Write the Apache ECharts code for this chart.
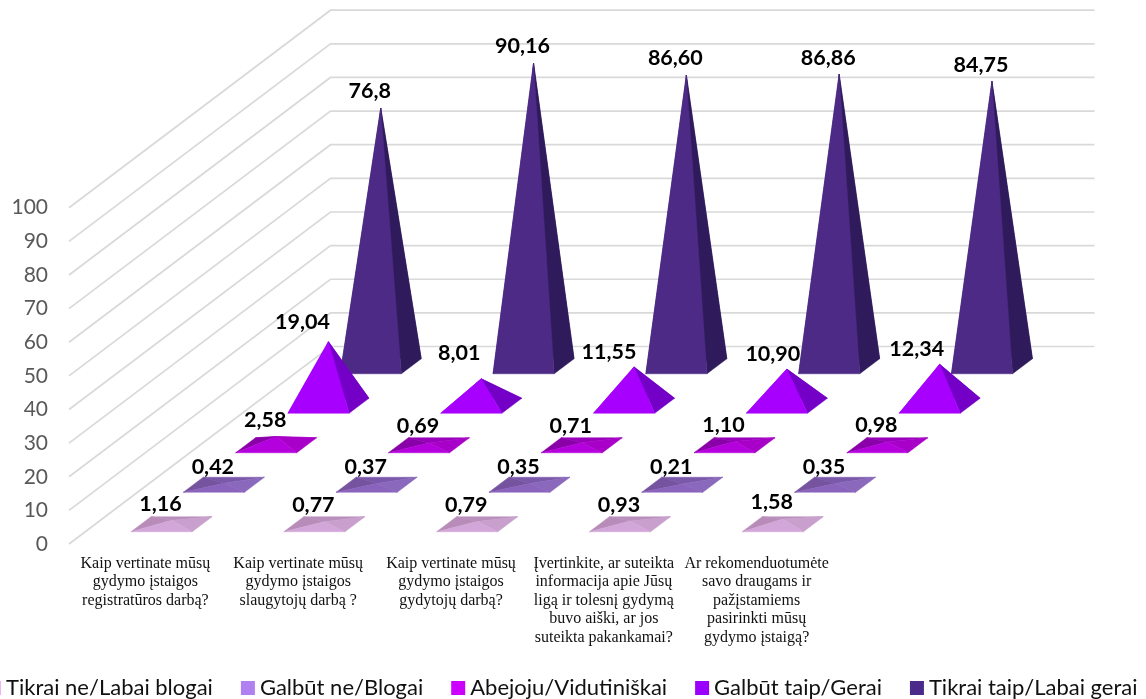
<!DOCTYPE html>
<html>
<head>
<meta charset="utf-8">
<style>html,body{margin:0;padding:0;background:#fff}#c{width:1146px;height:699px}</style>
<script src="https://cdn.jsdelivr.net/npm/echarts@6/dist/echarts.min.js"></script>
</head>
<body>
<div id="c"></div>
<script>
const categories = [
  'Kaip vertinate mūsų\ngydymo įstaigos\nregistratūros darbą?',
  'Kaip vertinate mūsų\ngydymo įstaigos\nslaugytojų darbą ?',
  'Kaip vertinate mūsų\ngydymo įstaigos\ngydytojų darbą?',
  'Įvertinkite, ar suteikta\ninformacija apie Jūsų\nligą ir tolesnį gydymą\nbuvo aiški, ar jos\nsuteikta pakankamai?',
  'Ar rekomenduotumėte\nsavo draugams ir\npažįstamiems\npasirinkti mūsų\ngydymo įstaigą?'
];
const seriesNames = ['Tikrai ne/Labai blogai','Galbūt ne/Blogai','Abejoju/Vidutiniškai','Galbūt taip/Gerai','Tikrai taip/Labai gerai'];
const tikraiNe   = ['1,16','0,77','0,79','0,93','1,58'];
const galbutNe   = ['0,42','0,37','0,35','0,21','0,35'];
const abejoju    = ['2,58','0,69','0,71','1,10','0,98'];
const galbutTaip = ['19,04','8,01','11,55','10,90','12,34'];
const tikraiTaip = ['76,8','90,16','86,60','86,86','84,75'];
const ticks = [0,10,20,30,40,50,60,70,80,90,100];

const allValues = [tikraiNe, galbutNe, abejoju, galbutTaip, tikraiTaip];
const legendColors = ['#f5b0f5','#b07ff0','#cc00ff','#9900ff','#4a2a8a'];
// face colours per series: back, left, right, front
const faces = [
  ['#b98fbd','#b88cb8','#c99fcd','#d2a6d8'],
  ['#7a58aa','#75539f','#8a68bc','#8a63bc'],
  ['#9a00bb','#8a00a8','#a800c8','#b400dc'],
  ['#7a00cc','#8c00dd','#7400c8','#a800ff'],
  ['#2f1a5c','#3a2070','#2f1a5c','#4c2a85']
];
const DEPTH = [52.3, -39.5];      // one series row of depth, in pixels
const HALF_W = 0.2, HALF_D = 0.19; // pyramid base, as a share of band and of depth row
const LABEL_OFF = [-11, -16.5];
const labelOffsets = {'3':[[-26,-20],[-22,-26],[-25,-15],[-14,-15],[-23,-15]]};

function num(s){ return parseFloat(s.replace(',', '.')); }

function renderPyramid(s){
  return function(params, api){
    const i = api.value(0), v = api.value(1);
    const band = api.size([1,0])[0];
    const base = api.coord([i,0]), top = api.coord([i,v]);
    const cx = base[0] + (s+.5)*DEPTH[0], cy = base[1] + (s+.5)*DEPTH[1];
    const hw = band*HALF_W, hx = DEPTH[0]*HALF_D, hy = DEPTH[1]*HALF_D;
    const FL=[cx-hw-hx,cy-hy], FR=[cx+hw-hx,cy-hy], BL=[cx-hw+hx,cy+hy], BR=[cx+hw+hx,cy+hy];
    const A=[cx, cy-(base[1]-top[1])];
    const f = faces[s];
    const tri = (pts,c)=>({type:'polygon',shape:{points:pts},style:{fill:c,stroke:c,lineWidth:.5}});
    const off = (labelOffsets[s] && labelOffsets[s][params.dataIndex]) || LABEL_OFF;
    return {type:'group',children:[
      tri([BL,BR,A],f[0]),
      tri([BL,FL,A],f[1]),
      tri([FR,BR,A],f[2]),
      tri([FL,FR,A],f[3]),
      {type:'text',z2:50,style:{
        text:allValues[s][params.dataIndex],x:A[0]+off[0],y:A[1]+off[1],
        align:'center',verticalAlign:'middle',fill:'#000',
        font:'bold 21.5px Lato'}}
    ]};
  };
}

const chart = echarts.init(document.getElementById('c'));
const series = [{
  type:'custom',name:'walls',silent:true,z:1,
  data:ticks.map(t=>[0,t]),
  renderItem(params,api){
    const band=api.size([1,0])[0];
    const p=api.coord([0,api.value(1)]);
    const x0=p[0]-band/2,y0=p[1];
    const x1=x0+5*DEPTH[0],y1=y0+5*DEPTH[1];
    return {type:'polyline',shape:{points:[[x0,y0],[x1,y1],[x1+5*band,y1]]},
      style:{stroke:'#d9d9d9',lineWidth:1.7,fill:null}};
  }
}];
allValues.forEach((arr,s)=>{
  series.push({
    type:'custom',name:seriesNames[s],z:10-s,
    itemStyle:{color:legendColors[s]},
    data:arr.map((t,i)=>[i,num(t)]),
    renderItem:renderPyramid(s)
  });
});
chart.setOption({
  animation:false,
  backgroundColor:'#fff',
  grid:{left:69,top:207.7,width:764,height:336.3},
  xAxis:{type:'category',data:categories,
    axisLine:{show:false},axisTick:{show:false},
    axisLabel:{interval:0,margin:10,color:'#111',fontFamily:'Liberation Serif',fontSize:16,lineHeight:18.6}},
  yAxis:{type:'value',min:0,max:100,interval:10,
    splitLine:{show:false},axisLine:{show:false},axisTick:{show:false},
    axisLabel:{margin:21,color:'#595959',fontFamily:'Lato',fontSize:21}},
  legend:{left:-18,top:672,width:1400,selectedMode:false,itemWidth:14,itemHeight:14,itemGap:28,
    data:seriesNames.map((n,s)=>({name:n,icon:'rect',itemStyle:{color:legendColors[s]}})),
    textStyle:{fontFamily:'Lato',fontSize:22,color:'#111'}},
  series
});
</script>
</body>
</html>
